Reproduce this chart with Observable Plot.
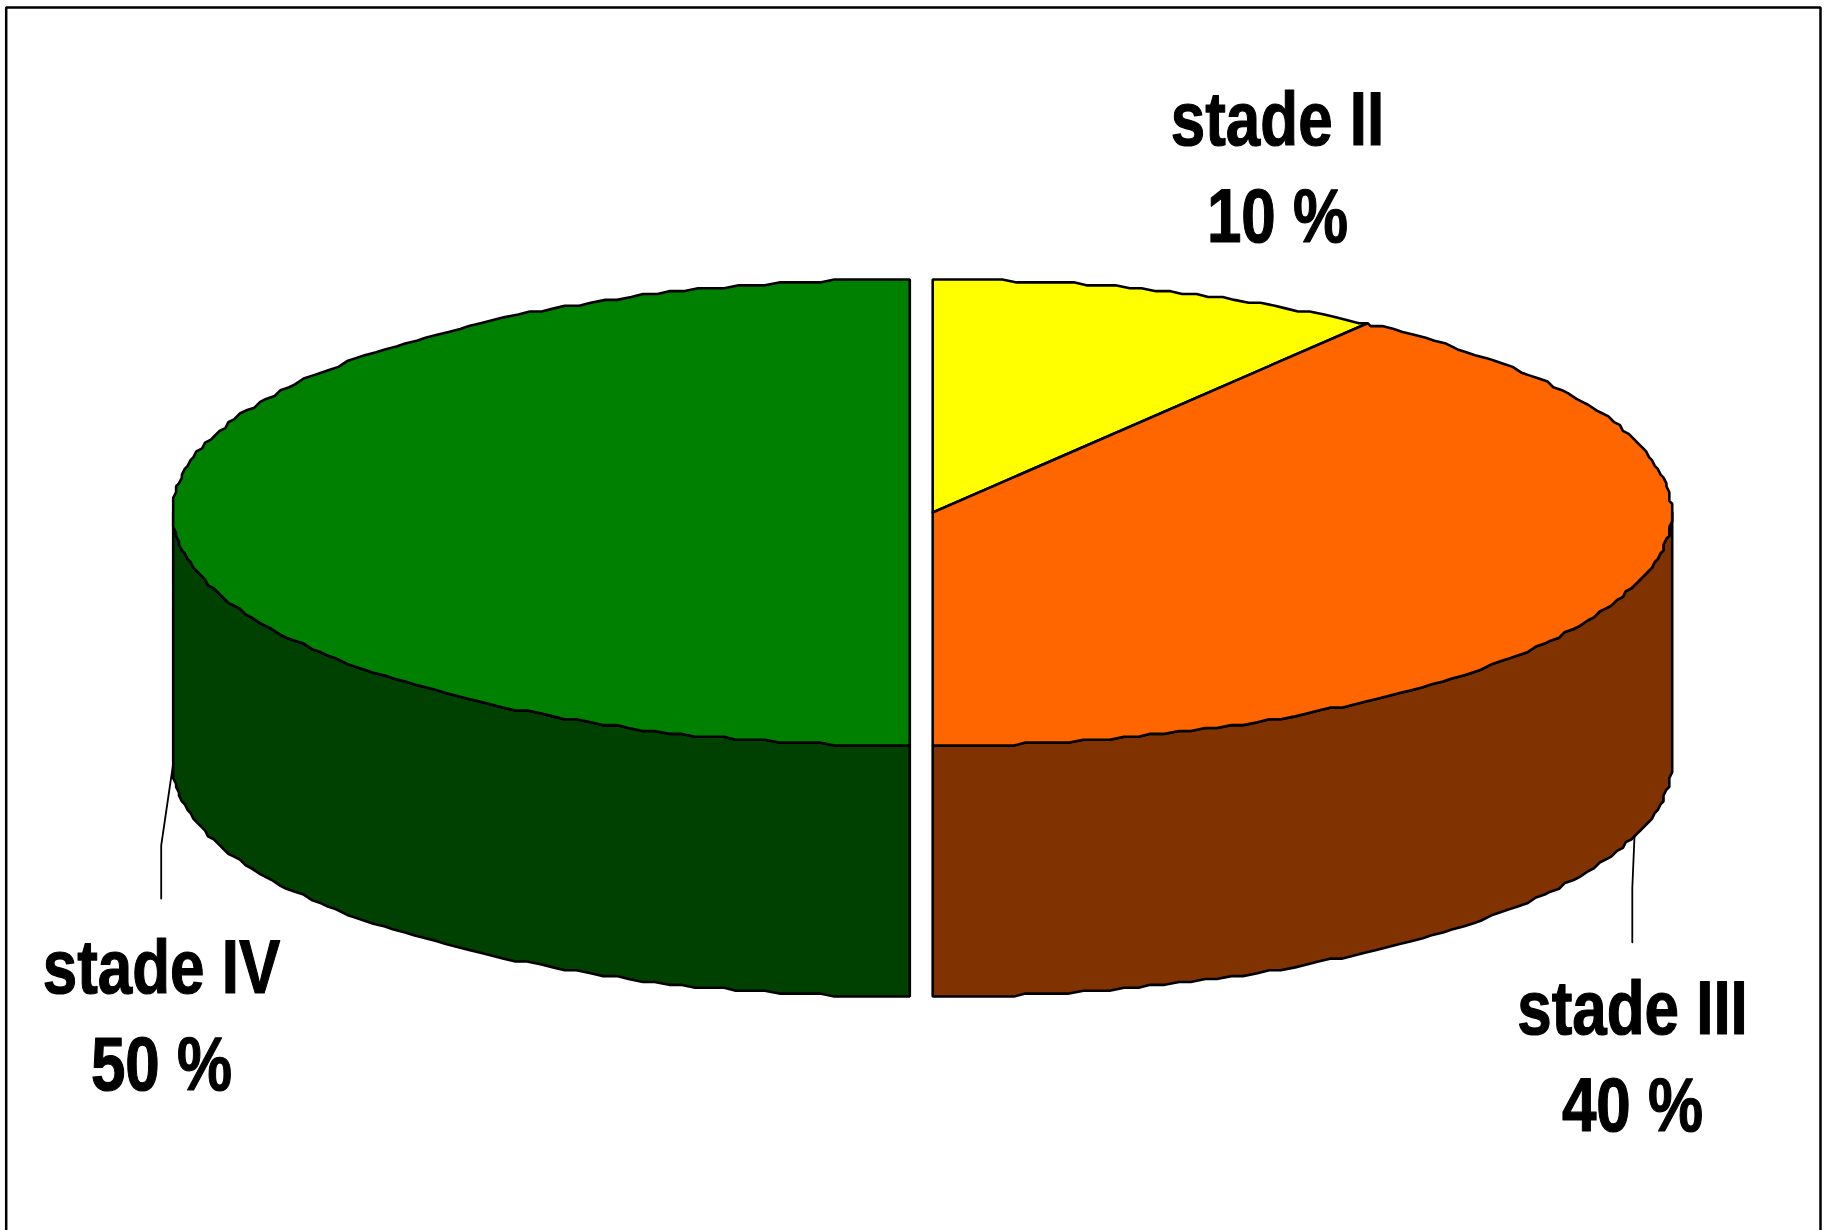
<!DOCTYPE html>
<html lang="fr">
<head>
<meta charset="utf-8">
<title>Répartition par stade</title>
<script src="https://cdn.jsdelivr.net/npm/d3@7"></script>
<script src="https://cdn.jsdelivr.net/npm/@observablehq/plot@0.6"></script>
<style>
  html, body { margin: 0; padding: 0; background: #fff; }
  svg { display: block; }
</style>
</head>
<body>
<div id="chart"></div>
<script>
// Share of cases per stage, clockwise from twelve o'clock
const stages = ["stade II", "stade III", "stade IV"];
const shares = [10, 40, 50];
const topColors = ["#ffff00", "#ff6600", "#008000"];
const sideColors = ["#808000", "#803300", "#004000"];

// Pie projection, in the units of the page-sized x and y scales
const pageWidth = 1829;
const pageHeight = 1230;
const rimY = 512;
const radiusY = 233;
const depth = 251;
const halves = {
  right: {cx: 932.2, rx: 739},
  left: {cx: 909.3, rx: 737}
};
// The rim is plotted on a coarse grid, giving its stepped outline
const rimGridX = 2.9;
const rimGridY = radiusY / 80;
const rimSampleDeg = 1.1;
const labelCondense = 0.815;

// Leader elbows and label anchors, relative to each slice
const leaders = {
  "stade III": {dx: -2.2, elbowDy: 52, endDy: 106},
  "stade IV": {dx: -12, elbowDy: 82, endDy: 135}
};
const labelAnchors = {
  "stade II": {x: 1277, y: 76},
  "stade III": {x: 1632, y: 965},
  "stade IV": {x: 161, y: 924}
};

const snap = (v, grid) => Math.round(v / grid) * grid;

function halfFor(deg) {
  return deg < 180 ? halves.right : halves.left;
}

function rimPoint(deg, yBase, half = halfFor(deg)) {
  const t = (deg * Math.PI) / 180;
  return {
    x: half.cx + snap(half.rx * Math.sin(t), rimGridX),
    y: yBase + snap(-radiusY * Math.cos(t), rimGridY)
  };
}

function arc(from, to, yBase, half) {
  const angles = [from];
  for (let a = Math.ceil(from / rimSampleDeg) * rimSampleDeg; a < to; a += rimSampleDeg) {
    if (a > from) angles.push(a);
  }
  angles.push(to);
  return angles.map((a) => rimPoint(a, yBase, half));
}

// Slice extents from the shares
let running = 0;
const slices = stages.map((stage, i) => {
  const from = (running / 100) * 360;
  running += shares[i];
  const to = (running / 100) * 360;
  return {stage, share: shares[i], from, to, mid: (from + to) / 2, half: halfFor((from + to) / 2)};
});

// Top faces: a wedge closed at the centre of its half
const topFaces = slices.flatMap((s) => {
  const centre = {x: s.half.cx, y: rimY};
  return [centre, ...arc(s.from, s.to, rimY, s.half), centre].map((p) => ({...p, key: s.stage}));
});

// Outer walls: only the part of each slice facing the viewer (90° to 270°)
const walls = slices.flatMap((s) => {
  const from = Math.max(s.from, 90);
  const to = Math.min(s.to, 270);
  if (to <= from) return [];
  const upper = arc(from, to, rimY, s.half);
  const lower = arc(from, to, rimY + depth, s.half).reverse();
  return [...upper, ...lower, upper[0]].map((p) => ({...p, key: s.stage + " côté"}));
});

// Leaders start on the lower rim at each slice's mid angle
const leaderLines = slices
  .filter((s) => leaders[s.stage])
  .flatMap((s) => {
    const l = leaders[s.stage];
    const start = rimPoint(s.mid, rimY + depth, s.half);
    return [
      {...start, key: s.stage},
      {x: start.x + l.dx, y: start.y + l.elbowDy, key: s.stage},
      {x: start.x + l.dx, y: start.y + l.endDy, key: s.stage}
    ];
  });

const labels = slices.map((s) => ({
  text: `${s.stage}\n${s.share} %`,
  ...labelAnchors[s.stage]
}));

const chart = Plot.plot({
  width: pageWidth,
  height: pageHeight,
  margin: 0,
  x: {domain: [0, pageWidth], range: [0, pageWidth], axis: null},
  y: {domain: [0, pageHeight], range: [0, pageHeight], axis: null},
  color: {
    domain: [...stages, ...stages.map((s) => s + " côté")],
    range: [...topColors, ...sideColors]
  },
  marks: [
    Plot.line(walls, {x: "x", y: "y", z: "key", fill: "key", stroke: "#000", strokeWidth: 2.6, strokeLinejoin: "miter"}),
    Plot.line(topFaces, {x: "x", y: "y", z: "key", fill: "key", stroke: "#000", strokeWidth: 2.6, strokeLinejoin: "miter"}),
    Plot.line(leaderLines, {x: "x", y: "y", z: "key", stroke: "#000", strokeWidth: 1.8, strokeLinejoin: "miter"}),
    Plot.text(labels, {
      x: "x",
      y: "y",
      text: "text",
      fontFamily: "'Liberation Sans', Arial, sans-serif",
      fontWeight: "bold",
      fontSize: 76,
      lineHeight: 97 / 76,
      lineAnchor: "top",
      textAnchor: "middle",
      fill: "#000",
      stroke: "#000",
      strokeWidth: 1.2
    }),
    // Outer border, open at the foot of the page
    Plot.line([{x: 5.7, y: pageHeight}, {x: 5.7, y: 7}, {x: 1820, y: 7}, {x: 1820, y: pageHeight}], {
      x: "x", y: "y", stroke: "#000", strokeWidth: 2.5, strokeLinejoin: "miter"
    })
  ]
});

// Labels are set in a condensed width: narrow each one about its own anchor
d3.select(chart).selectAll("text").attr("transform", function () {
  return `${this.getAttribute("transform") ?? ""} scale(${labelCondense},1)`;
});

document.getElementById("chart").append(chart);
</script>
</body>
</html>
